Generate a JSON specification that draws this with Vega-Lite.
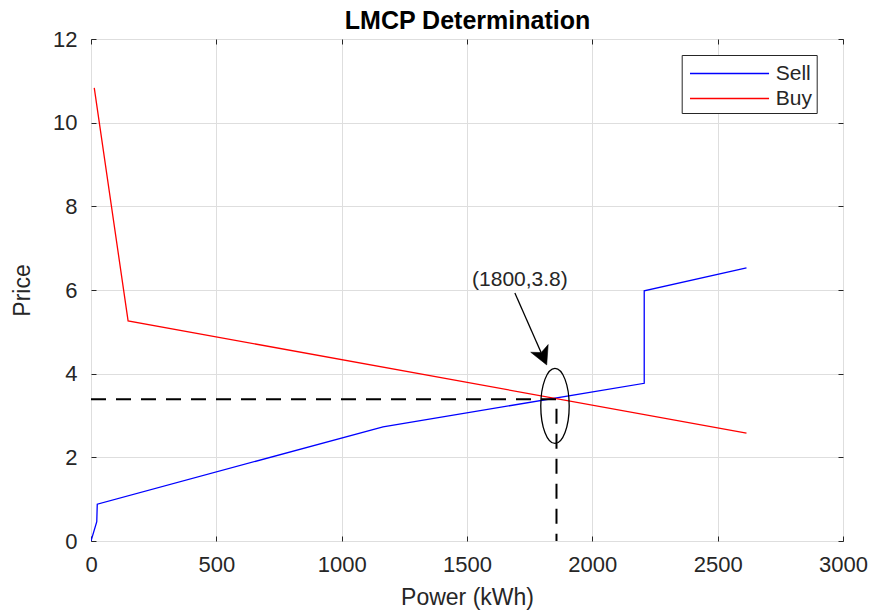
{
  "$schema": "https://vega.github.io/schema/vega-lite/v6.json",
  "width": 752,
  "height": 502,
  "autosize": {"type": "none"},
  "padding": {"left": 91, "top": 39, "right": 34, "bottom": 75},
  "background": "white",
  "config": {"view": {"stroke": "#262626", "strokeWidth": 1}, "font": "Liberation Sans"},
  "datasets": {
    "curves": [
      {"series": "Sell", "o": 1, "x": 0, "y": 0},
      {"series": "Sell", "o": 2, "x": 23, "y": 0.46},
      {"series": "Sell", "o": 3, "x": 25, "y": 0.88},
      {"series": "Sell", "o": 4, "x": 1165, "y": 2.73},
      {"series": "Sell", "o": 5, "x": 2207, "y": 3.77},
      {"series": "Sell", "o": 6, "x": 2207, "y": 5.98},
      {"series": "Sell", "o": 7, "x": 2615, "y": 6.53},
      {"series": "Buy", "o": 1, "x": 13, "y": 10.83},
      {"series": "Buy", "o": 2, "x": 148, "y": 5.26},
      {"series": "Buy", "o": 3, "x": 2615, "y": 2.58}
    ],
    "guide": [
      {"o": 1, "x": 0, "y": 3.39},
      {"o": 2, "x": 1857, "y": 3.39},
      {"o": 3, "x": 1857, "y": 0}
    ],
    "ellipse": [{"x": 1851, "y": 3.23}],
    "arrow": [
      {"o": 1, "x": 1691, "y": 5.93},
      {"o": 2, "x": 1796, "y": 4.5}
    ],
    "head": [{"x": 1818, "y": 4.21}],
    "label": [{"x": 1711, "y": 6.24, "text": "(1800,3.8)"}]
  },
  "layer": [
    {
      "data": {"name": "curves"},
      "mark": {"type": "line", "strokeWidth": 1.3, "clip": true},
      "encoding": {
        "x": {"field": "x", "type": "quantitative", "scale": {"domain": [0, 3000], "nice": false},
          "axis": {"orient": "bottom", "values": [0, 500, 1000, 1500, 2000, 2500, 3000], "format": "d", "title": "Power (kWh)", "grid": true, "gridColor": "#dedede", "gridWidth": 1, "domain": false, "tickColor": "#262626", "tickSize": -5, "labelFontSize": 22, "labelColor": "#262626", "labelFont": "Liberation Sans", "labelPadding": 18, "labelFlush": false, "labelOverlap": false, "titleFontSize": 23, "titleFont": "Liberation Sans", "titleFontWeight": "normal", "titleColor": "#262626", "titleX": 376, "titleY": 56, "titleBaseline": "middle", "titleAlign": "center"}},
        "y": {"field": "y", "type": "quantitative", "scale": {"domain": [0, 12], "nice": false},
          "axis": {"orient": "left", "values": [0, 2, 4, 6, 8, 10, 12], "format": "d", "title": "Price", "grid": true, "gridColor": "#dedede", "gridWidth": 1, "domain": false, "tickColor": "#262626", "tickSize": -5, "labelFontSize": 22, "labelColor": "#262626", "labelFont": "Liberation Sans", "labelPadding": 19, "labelFlush": false, "labelOverlap": false, "titleFontSize": 23, "titleFont": "Liberation Sans", "titleFontWeight": "normal", "titleColor": "#262626", "titleX": -69, "titleY": 251, "titleAngle": -90, "titleBaseline": "middle", "titleAlign": "center"}},
        "color": {"field": "series", "type": "nominal", "scale": {"domain": ["Sell", "Buy"], "range": ["#0000ff", "#ff0000"]},
          "legend": {"orient": "none", "legendX": 590.7, "legendY": 16, "title": null, "padding": 4, "strokeColor": "#262626", "fillColor": "white", "symbolType": "M-0.756,0H5.1", "symbolSize": 729, "symbolStrokeWidth": 1.3, "labelFontSize": 21, "labelFont": "Liberation Sans", "labelColor": "#262626", "labelOffset": 61, "rowPadding": 0, "cornerRadius": 0,
            "encode": {"symbols": {"update": {"stroke": {"scale": "color", "field": "value"}, "strokeWidth": {"value": 1.3}, "fill": {"value": "transparent"}}}}}},
        "order": {"field": "o", "type": "quantitative"}
      }
    },
    {
      "data": {"name": "guide"},
      "mark": {"type": "line", "color": "#000000", "strokeWidth": 2, "strokeDash": [15, 10]},
      "encoding": {
        "x": {"field": "x", "type": "quantitative", "axis": null},
        "y": {"field": "y", "type": "quantitative", "axis": null},
        "order": {"field": "o", "type": "quantitative"}
      }
    },
    {
      "data": {"name": "ellipse"},
      "mark": {"type": "point", "shape": "M0,-1A0.379,1,0,1,1,0,1A0.379,1,0,1,1,0,-1Z", "size": 5625, "filled": false, "stroke": "#000000", "strokeWidth": 1.3, "opacity": 1},
      "encoding": {
        "x": {"field": "x", "type": "quantitative", "axis": null},
        "y": {"field": "y", "type": "quantitative", "axis": null}
      }
    },
    {
      "data": {"name": "arrow"},
      "mark": {"type": "line", "color": "#000000", "strokeWidth": 1.3},
      "encoding": {
        "x": {"field": "x", "type": "quantitative", "axis": null},
        "y": {"field": "y", "type": "quantitative", "axis": null},
        "order": {"field": "o", "type": "quantitative"}
      }
    },
    {
      "data": {"name": "head"},
      "mark": {"type": "point", "shape": "M0,0L-0.53,-1L0,-0.75L0.53,-1Z", "size": 1296, "filled": true, "fill": "#000000", "stroke": "#000000", "strokeWidth": 0.5, "opacity": 1, "angle": 336.2},
      "encoding": {
        "x": {"field": "x", "type": "quantitative", "axis": null},
        "y": {"field": "y", "type": "quantitative", "axis": null}
      }
    },
    {
      "data": {"name": "label"},
      "mark": {"type": "text", "font": "Liberation Sans", "fontSize": 21, "color": "#262626", "align": "center", "baseline": "middle"},
      "encoding": {
        "x": {"field": "x", "type": "quantitative", "axis": {"orient": "top", "values": [0, 500, 1000, 1500, 2000, 2500, 3000], "labels": false, "title": "LMCP Determination", "titleFont": "Liberation Sans", "titleFontSize": 25, "titleFontWeight": "bold", "titleColor": "#000000", "titleX": 376, "titleY": -11, "titleBaseline": "alphabetic", "titleAlign": "center", "grid": false, "domain": false, "tickSize": -5, "tickColor": "#262626"}},
        "y": {"field": "y", "type": "quantitative", "axis": {"orient": "right", "values": [0, 2, 4, 6, 8, 10, 12], "labels": false, "title": null, "grid": false, "domain": false, "tickSize": -5, "tickColor": "#262626"}},
        "text": {"field": "text", "type": "nominal"}
      }
    }
  ],
  "resolve": {"axis": {"x": "independent", "y": "independent"}}
}
